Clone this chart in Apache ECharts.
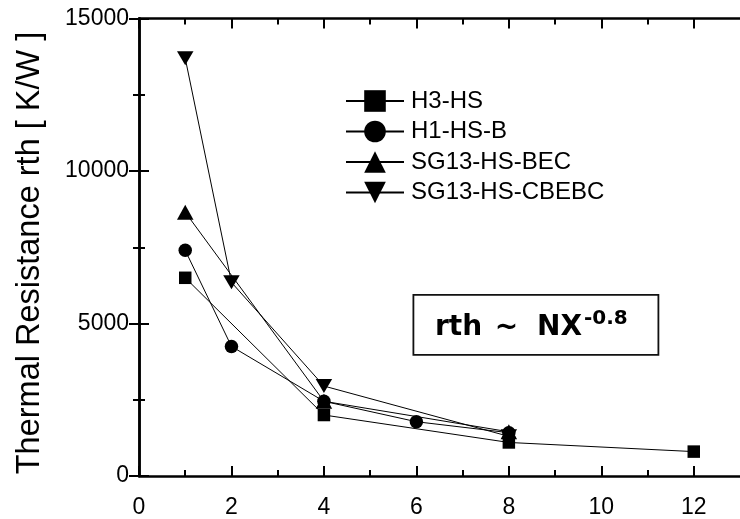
<!DOCTYPE html>
<html>
<head>
<meta charset="utf-8">
<script src="https://cdn.jsdelivr.net/npm/echarts@6/dist/echarts.min.js"></script>
<style>
  html, body { margin: 0; padding: 0; background: #fff; }
  #chart { width: 740px; height: 519px; }
</style>
</head>
<body>
<div id="chart"></div>
<script>
// ---- data ----
const seriesNames = ['H3-HS', 'H1-HS-B', 'SG13-HS-BEC', 'SG13-HS-CBEBC'];
const h3X = [1, 4, 8, 12];
const h3Y = [6500, 2000, 1100, 800];
const h1X = [1, 2, 4, 6, 8];
const h1Y = [7400, 4250, 2450, 1780, 1420];
const becX = [1, 4, 8];
const becY = [8650, 2450, 1450];
const cbebcX = [1, 2, 4, 8];
const cbebcY = [13700, 6350, 2950, 1300];
const xMajorTicks = [0, 2, 4, 6, 8, 10, 12];
const xMinorTicks = [1, 3, 5, 7, 9, 11];
const yTicks = [0, 5000, 10000, 15000];
const yAxisTitle = 'Thermal Resistance rth [ K/W ]';

const FONT = 'Liberation Sans, Arial, sans-serif';
const pairs = (xs, ys) => xs.map((x, i) => [x, ys[i]]);

const chart = echarts.init(document.getElementById('chart'), null, { renderer: 'canvas' });

const axisLine = { show: true, lineStyle: { color: '#000', width: 2.5 } };
function xAx(position, values, len, showLine, showLabel) {
  return {
    type: 'value', position: position, min: 0, max: 13,
    axisLine: showLine ? axisLine : { show: false },
    axisTick: { show: true, inside: true, length: len, customValues: values, lineStyle: { color: '#000', width: 2 } },
    axisLabel: showLabel
      ? { show: true, customValues: values, fontSize: 23, color: '#000', fontFamily: FONT, margin: 20 }
      : { show: false },
    splitLine: { show: false }
  };
}
function yAx(position, showLabel) {
  return {
    type: 'value', position: position, min: yTicks[0], max: yTicks[yTicks.length - 1], interval: 5000,
    axisLine: axisLine,
    axisTick: { show: true, inside: true, length: 10, lineStyle: { color: '#000', width: 2 } },
    minorTick: { show: true, splitNumber: 2, length: 6, lineStyle: { color: '#000', width: 2 } },
    axisLabel: showLabel
      ? { show: true, fontSize: 23, color: '#000', fontFamily: FONT, margin: 10, formatter: (v) => String(v) }
      : { show: false },
    splitLine: { show: false }
  };
}

function mkSeries(name, data, symbol, size, rotate) {
  return {
    name: name, type: 'line', data: data,
    xAxisIndex: 0, yAxisIndex: 0,
    symbol: symbol, symbolSize: size, symbolRotate: rotate || 0,
    showSymbol: true,
    lineStyle: { color: '#000', width: 1 },
    itemStyle: { color: '#000', borderWidth: 0 },
    emphasis: { disabled: true },
    animation: false
  };
}

const option = {
  backgroundColor: '#fff',
  animation: false,
  grid: { left: 139, top: 18.6, width: 602.5, height: 458.1, containLabel: false },
  xAxis: [
    xAx('bottom', xMajorTicks, 10, true, true),
    xAx('bottom', xMinorTicks, 6, false, false),
    xAx('top', xMajorTicks, 10, true, false),
    xAx('top', xMinorTicks, 6, false, false)
  ],
  yAxis: [yAx('left', true), yAx('right', false)],
  legend: {
    orient: 'vertical',
    left: 345, top: 89, padding: 0,
    itemWidth: 58, itemHeight: 27, itemGap: 6.5,
    textStyle: { fontSize: 24, color: '#000', fontFamily: FONT, padding: [0, 0, 0, 2] },
    data: seriesNames,
    selectedMode: false
  },
  series: [
    mkSeries(seriesNames[0], pairs(h3X, h3Y), 'rect', 12.5),
    mkSeries(seriesNames[1], pairs(h1X, h1Y), 'circle', 13.5),
    mkSeries(seriesNames[2], pairs(becX, becY), 'triangle', [16.5, 15]),
    mkSeries(seriesNames[3], pairs(cbebcX, cbebcY), 'triangle', [16.5, 14], 180)
  ],
  graphic: [
    { type: 'text', x: 30, y: 253, rotation: Math.PI / 2, z: 11,
      style: { text: yAxisTitle, fontSize: 32.5, fontFamily: FONT, fill: '#000', align: 'center', verticalAlign: 'middle' } },
    { type: 'rect', left: 412.5, top: 294, shape: { width: 245, height: 60 },
      style: { fill: '#fff', stroke: '#111', lineWidth: 1.8 }, z: 10 },
    { type: 'text', x: 435, y: 328, z: 11,
      style: { text: 'rth', fontSize: 28, fontWeight: 'bold', fontFamily: 'DejaVu Sans', fill: '#000', align: 'left', verticalAlign: 'middle' } },
    { type: 'text', x: 506.5, y: 328, z: 11,
      style: { text: '~', fontSize: 28, fontWeight: 'bold', fontFamily: 'DejaVu Sans', fill: '#000', align: 'center', verticalAlign: 'middle' } },
    { type: 'text', x: 537, y: 328, z: 11,
      style: { text: 'NX', fontSize: 28, fontWeight: 'bold', fontFamily: 'DejaVu Sans', fill: '#000', align: 'left', verticalAlign: 'middle' } },
    { type: 'text', x: 584, y: 319, z: 11,
      style: { text: '-0.8', fontSize: 20, fontWeight: 'bold', fontFamily: 'DejaVu Sans', fill: '#000', align: 'left', verticalAlign: 'middle' } }
  ]
};
chart.setOption(option);
</script>
</body>
</html>
